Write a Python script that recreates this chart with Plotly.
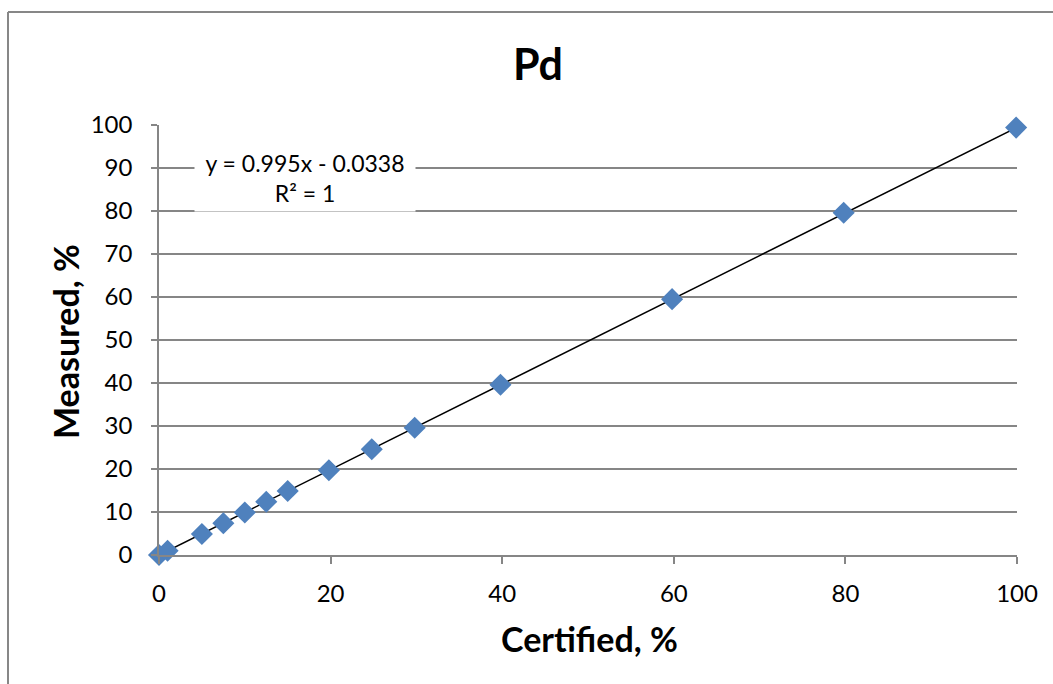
import plotly.graph_objects as go

certified = [0, 1, 5, 7.5, 10, 12.5, 15, 19.8, 24.8, 29.8, 39.8, 59.8, 79.8, 99.9]
measured = [0, 1.0, 4.9, 7.4, 9.9, 12.4, 14.9, 19.7, 24.6, 29.6, 39.6, 59.5, 79.6, 99.4]
fit_slope = 0.995
fit_intercept = -0.0338
fit_x = [0, 100]
fit_y = [fit_slope * v + fit_intercept for v in fit_x]

title = "Pd"
x_title = "Certified, %"
y_title = "Measured, %"
eq_text = "y = 0.995x - 0.0338<br>R² = 1"

FONT = "Lato, 'Open Sans', sans-serif"
GRID = "#868686"

fig = go.Figure()
fig.add_trace(go.Scatter(x=fit_x, y=fit_y, mode="lines",
                         line=dict(color="black", width=1.5), hoverinfo="skip",
                         cliponaxis=False))
fig.add_trace(go.Scatter(x=certified, y=measured, mode="markers",
                         marker=dict(symbol="diamond", size=17, color="#4F81BD",
                                     line=dict(width=0)),
                         cliponaxis=False))

fig.update_layout(
    width=1053, height=684,
    margin=dict(l=159, r=36, t=125, b=129, autoexpand=False),
    paper_bgcolor="white", plot_bgcolor="white",
    showlegend=False,
    font=dict(family=FONT, size=24, color="black"),
)
fig.update_xaxes(range=[0, 100], tickvals=[0, 20, 40, 60, 80, 100],
                 showgrid=False, zeroline=False, showline=True, linecolor=GRID, linewidth=1.5,
                 ticks="outside", ticklen=7, tickcolor=GRID, tickwidth=1.5,
                 ticklabelstandoff=9, tickfont=dict(size=24))
fig.update_yaxes(range=[0, 100], tickvals=list(range(0, 101, 10)),
                 showgrid=True, gridcolor=GRID, gridwidth=1.5, zeroline=False,
                 showline=True, linecolor=GRID, linewidth=1.5,
                 ticks="outside", ticklen=6, tickcolor=GRID, tickwidth=1.5,
                 ticklabelstandoff=14, tickfont=dict(size=24))

# chart border (left and top edges visible)
fig.add_shape(type="line", xref="paper", yref="paper",
              x0=(8 - 159) / 858, x1=(8 - 159) / 858,
              y0=(555 - 690) / 430, y1=(555 - 12) / 430,
              line=dict(color="#878787", width=2))
fig.add_shape(type="line", xref="paper", yref="paper",
              x0=(8 - 159) / 858, x1=(1060 - 159) / 858,
              y0=(555 - 12) / 430, y1=(555 - 12) / 430,
              line=dict(color="#878787", width=2))

fig.add_annotation(text="<b>" + title + "</b>", xref="paper", yref="paper",
                   x=(538 - 159) / 858, y=(555 - 64) / 430, showarrow=False,
                   xanchor="center", yanchor="middle", font=dict(size=43))
fig.add_annotation(text="<b>" + x_title + "</b>", xref="paper", yref="paper",
                   x=(589 - 159) / 858, y=(555 - 638) / 430, showarrow=False,
                   xanchor="center", yanchor="middle", font=dict(size=34))
fig.add_annotation(text="<b>" + y_title + "</b>", xref="paper", yref="paper",
                   x=(65 - 159) / 858, y=(555 - 342) / 430, showarrow=False,
                   textangle=-90, xanchor="center", yanchor="middle", font=dict(size=34))
fig.add_annotation(text=eq_text, x=17.0, y=87.7, xref="x", yref="y", showarrow=False,
                   xanchor="center", yanchor="middle", align="center",
                   bgcolor="white", width=218, height=64, font=dict(size=23))

fig.write_html("out.html", config={"displayModeBar": False})
with open("out.html", encoding="utf-8") as f:
    html = f.read()
html = html.replace("<body>", '<body style="margin:0;padding:0">', 1)
with open("out.html", "w", encoding="utf-8") as f:
    f.write(html)
